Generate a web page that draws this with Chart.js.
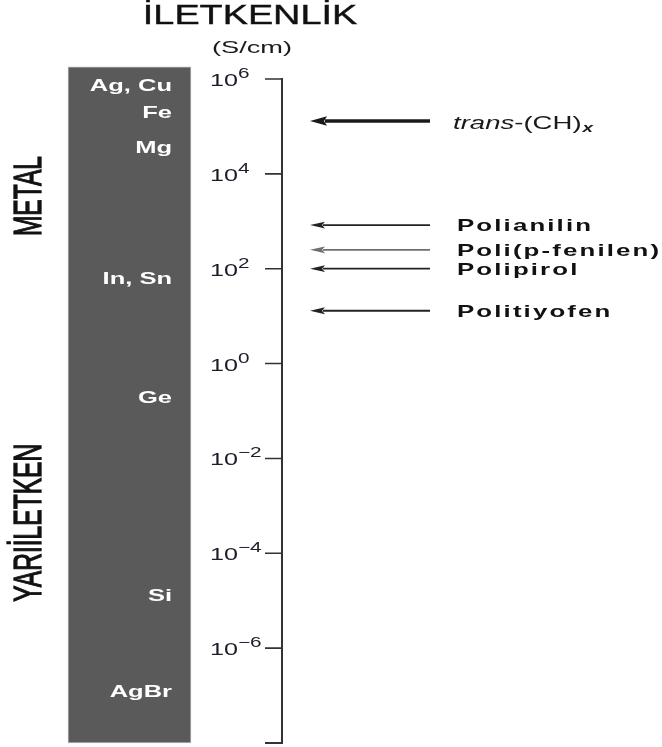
<!DOCTYPE html>
<html>
<head>
<meta charset="utf-8">
<script src="https://cdn.jsdelivr.net/npm/chart.js@4.4.1/dist/chart.umd.min.js"></script>
<style>
  html, body { margin: 0; padding: 0; background: #fff; }
  canvas { display: block; }
</style>
</head>
<body>
<canvas id="c" width="662" height="747"></canvas>
<script>
// Conductivity ladder, S/cm (log scale)
const decadeExponents = [6, 4, 2, 0, -2, -4, -6];
const scaleRange = [1e-8, 1e6];
const columnRange = [1e-8, 1.8e6];

const materialNames = ['Ag, Cu', 'Fe', 'Mg', 'In, Sn', 'Ge', 'Si', 'AgBr'];
const materialConductivity = [7.5e5, 2e5, 3.7e4, 63, 0.2, 1.3e-5, 1.25e-7];

const polymerNames = ['trans-(CH)x', 'Polianilin', 'Poli(p-fenilen)', 'Polipirol', 'Politiyofen'];
const polymerConductivity = [1.3e5, 830, 250, 100, 13];

const classNames = ['METAL', 'YARIİLETKEN'];
const classConductivity = [3.4e3, 4.4e-4];

const titleText = 'İLETKENLİK';
const unitText = '(S/cm)';

// layout
const COLUMN_X = 129.5;
const COLUMN_WIDTH = 123;
const AXIS_X = 282;
const TICK_LEN = 17;
const TICK_LABEL_X = 210;
const ARROW_TIP_X = 310;
const ARROW_TAIL_X = 430;
const FONT = '"Liberation Sans", Arial, sans-serif';

function wideText(ctx, text, x, y, opts) {
  const o = Object.assign({ size: 17, weight: 'normal', style: 'normal', sx: 1.5, align: 'left', color: '#111', spacing: 0 }, opts);
  ctx.save();
  ctx.font = `${o.style} ${o.weight} ${o.size}px ${FONT}`;
  ctx.fillStyle = o.color;
  ctx.textBaseline = 'alphabetic';
  ctx.textAlign = 'left';
  ctx.letterSpacing = o.spacing + 'px';
  const w = ctx.measureText(text).width - (o.spacing ? o.spacing : 0);
  ctx.translate(x, y);
  ctx.scale(o.sx, 1);
  let ox = 0;
  if (o.align === 'right') ox = -w;
  else if (o.align === 'center') ox = -w / 2;
  ctx.fillText(text, ox, 0);
  if (o.stroke) {
    ctx.strokeStyle = o.color;
    ctx.lineWidth = o.stroke;
    ctx.strokeText(text, ox, 0);
  }
  ctx.restore();
  return w * o.sx;
}

function arrow(ctx, y, width, color, headLen, headHalf) {
  ctx.save();
  ctx.strokeStyle = color;
  ctx.fillStyle = color;
  ctx.lineWidth = width;
  ctx.beginPath();
  ctx.moveTo(ARROW_TAIL_X, y);
  ctx.lineTo(ARROW_TIP_X + headLen - 2, y);
  ctx.stroke();
  ctx.beginPath();
  ctx.moveTo(ARROW_TIP_X, y);
  ctx.lineTo(ARROW_TIP_X + headLen, y - headHalf);
  ctx.lineTo(ARROW_TIP_X + headLen - 3, y);
  ctx.lineTo(ARROW_TIP_X + headLen, y + headHalf);
  ctx.closePath();
  ctx.fill();
  ctx.restore();
}

const ladderPlugin = {
  id: 'ladder',
  afterDraw(chart) {
    const ctx = chart.ctx;
    const ys = chart.scales.y;

    // title and unit
    wideText(ctx, titleText, 250, 24, { size: 27, sx: 1.4, align: 'center', color: '#111', stroke: 0.4 });
    wideText(ctx, unitText, 252, 53, { size: 17, sx: 1.6, align: 'center', color: '#1a1a1a' });

    // vertical axis with decade ticks
    const yTop = ys.getPixelForValue(scaleRange[1]);
    const yBot = ys.getPixelForValue(scaleRange[0]);
    ctx.save();
    ctx.strokeStyle = '#333';
    ctx.lineWidth = 2;
    ctx.beginPath();
    ctx.moveTo(AXIS_X, yTop - 1);
    ctx.lineTo(AXIS_X, yBot + 1);
    ctx.moveTo(AXIS_X - TICK_LEN, yBot);
    ctx.lineTo(AXIS_X, yBot);
    ctx.stroke();
    ctx.lineWidth = 1.6;
    ctx.beginPath();
    decadeExponents.forEach(e => {
      const py = ys.getPixelForValue(Math.pow(10, e));
      ctx.moveTo(AXIS_X - TICK_LEN, py);
      ctx.lineTo(AXIS_X, py);
    });
    ctx.stroke();
    ctx.restore();

    decadeExponents.forEach(e => {
      const py = ys.getPixelForValue(Math.pow(10, e));
      const w = wideText(ctx, '10', TICK_LABEL_X, py + 7, { size: 17, sx: 1.48, color: '#1c1c2a' });
      const exp = e < 0 ? '\u2212' + Math.abs(e) : String(e);
      wideText(ctx, exp, TICK_LABEL_X + w, py - 1, { size: 14, sx: 1.48, color: '#1c1c2a' });
    });

    // material names inside the column
    materialNames.forEach((name, i) => {
      const py = ys.getPixelForValue(materialConductivity[i]);
      wideText(ctx, name, 172, py + 6, { size: 17, weight: 'bold', sx: 1.5, align: 'right', color: '#fff' });
    });

    // class labels, rotated
    classNames.forEach((name, i) => {
      const py = ys.getPixelForValue(classConductivity[i]);
      ctx.save();
      ctx.translate(29, py);
      ctx.rotate(-Math.PI / 2);
      ctx.scale(0.91, 1.45);
      ctx.font = `normal 27px ${FONT}`;
      ctx.fillStyle = '#111';
      ctx.strokeStyle = '#111';
      ctx.lineWidth = 0.9;
      ctx.textAlign = 'center';
      ctx.textBaseline = 'middle';
      ctx.fillText(name, 0, 1);
      ctx.strokeText(name, 0, 1);
      ctx.restore();
    });

    // polymer arrows and labels
    polymerNames.forEach((name, i) => {
      const py = ys.getPixelForValue(polymerConductivity[i]);
      if (i === 0) {
        arrow(ctx, py, 3.4, '#1a1a1a', 17, 4.8);
        let x = 453;
        x += wideText(ctx, 'trans', x, py + 8, { size: 19, style: 'italic', sx: 1.45, color: '#1a1a1a' });
        x += wideText(ctx, '-(CH)', x, py + 8, { size: 19, sx: 1.45, color: '#1a1a1a' });
        wideText(ctx, 'x', x + 1, py + 11, { size: 13, style: 'italic', weight: 'bold', sx: 1.45, color: '#1a1a1a' });
      } else {
        const color = i === 2 ? '#6e6e6e' : '#222';
        arrow(ctx, py, 1.8, color, 15, 3.4);
        wideText(ctx, name, 457, py + 6, { size: 17, weight: 'bold', sx: 1.52, spacing: 1.4, color: '#111' });
      }
    });
  }
};

new Chart(document.getElementById('c'), {
  type: 'bar',
  data: {
    datasets: [{
      data: [{ x: COLUMN_X, y: columnRange }],
      backgroundColor: '#5a5a5a',
      borderColor: '#b8b8b8',
      borderWidth: 1,
      borderSkipped: false,
      barThickness: COLUMN_WIDTH,
      clip: false
    }]
  },
  options: {
    responsive: false,
    animation: false,
    devicePixelRatio: 1,
    layout: { padding: { top: 79, bottom: 4, left: 0, right: 0 } },
    plugins: { legend: { display: false }, tooltip: { enabled: false } },
    scales: {
      x: { type: 'linear', min: 0, max: 662, offset: false, display: false },
      y: { type: 'logarithmic', min: scaleRange[0], max: scaleRange[1], display: false }
    }
  },
  plugins: [ladderPlugin]
});
</script>
</body>
</html>
